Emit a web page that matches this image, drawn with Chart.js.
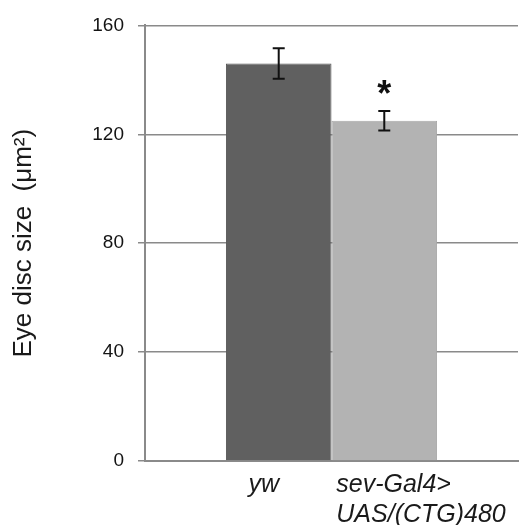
<!DOCTYPE html>
<html>
<head>
<meta charset="utf-8">
<script src="https://cdn.jsdelivr.net/npm/chart.js@4.4.1/dist/chart.umd.min.js"></script>
<style>
  html, body { margin: 0; padding: 0; background: #ffffff; }
  #wrap { width: 519px; height: 525px; position: relative; }
</style>
</head>
<body>
<div id="wrap"><canvas id="c" width="519" height="525"></canvas></div>
<script>
// ---- data ----
const categories = [['yw'], ['sev-Gal4>', 'UAS/(CTG)480']];
const values = [146, 125];
const errors = [5.6, 3.6];
const significance = ['', '*'];
const yTickValues = [0, 40, 80, 120, 160];
const barColors = ['#606060', '#b3b3b3'];
const barBorders = ['#585858', '#a8a8a8'];
const yTitle = 'Eye disc size  (\u03BCm\u00B2)';

const FONT = '"Liberation Sans", Arial, sans-serif';

const datasets = values.map((v, i) => ({
  label: categories[i].join(' '),
  data: [v],
  backgroundColor: barColors[i],
  borderColor: barBorders[i],
  borderWidth: 1,
  categoryPercentage: 0.566,
  barPercentage: 1.0
}));

const overlay = {
  id: 'overlay',
  afterDatasetsDraw(chart) {
    const ctx = chart.ctx;
    const y = chart.scales.y;
    ctx.save();
    values.forEach((v, i) => {
      const bar = chart.getDatasetMeta(i).data[0];
      const x = bar.x;
      const top = y.getPixelForValue(v + errors[i]);
      const bot = y.getPixelForValue(v - errors[i]);
      ctx.strokeStyle = '#111111';
      ctx.lineWidth = 2;
      ctx.beginPath();
      ctx.moveTo(x, top); ctx.lineTo(x, bot);
      ctx.moveTo(x - 6, top); ctx.lineTo(x + 6, top);
      ctx.moveTo(x - 6, bot); ctx.lineTo(x + 6, bot);
      ctx.stroke();
      if (significance[i]) {
        ctx.fillStyle = '#111111';
        ctx.font = 'bold 36px ' + FONT;
        ctx.textAlign = 'center';
        ctx.textBaseline = 'top';
        ctx.fillText(significance[i], x, top - 33);
      }
    });
    // category labels under each bar
    ctx.fillStyle = '#1a1a1a';
    ctx.font = 'italic 25px ' + FONT;
    ctx.textBaseline = 'alphabetic';
    const base = chart.chartArea.bottom + 31;
    categories.forEach((lines, i) => {
      const bar = chart.getDatasetMeta(i).data[0];
      let x, align;
      if (lines.length === 1) { x = bar.x - 15; align = 'center'; }
      else { x = bar.x - 48; align = 'left'; }
      ctx.textAlign = align;
      lines.forEach((t, k) => ctx.fillText(t, x, base + k * 30));
    });
    ctx.restore();
  }
};

new Chart(document.getElementById('c'), {
  type: 'bar',
  data: { labels: [''], datasets },
  options: {
    responsive: false,
    animation: false,
    layout: { padding: { top: 20, right: 1, left: 0, bottom: 0 } },
    plugins: { legend: { display: false }, tooltip: { enabled: false } },
    scales: {
      x: {
        grid: { display: false, drawTicks: false },
        border: { color: '#8a8a8a', width: 2 },
        ticks: { display: false },
        afterFit(s) { s.height = 64; }
      },
      y: {
        min: 0, max: 160,
        afterBuildTicks(s) { s.ticks = yTickValues.map(v => ({ value: v })); },
        grid: { color: '#8a8a8a', lineWidth: 1.5, tickLength: 7, drawTicks: true },
        border: { color: '#8a8a8a', width: 2 },
        ticks: { color: '#141414', font: { family: FONT, size: 19 }, padding: 14 },
        title: {
          display: true, text: yTitle, color: '#1a1a1a',
          font: { family: FONT, size: 26 }, padding: { top: 8, bottom: 0 }
        },
        afterFit(s) { s.width = 145; }
      }
    }
  },
  plugins: [overlay]
});
</script>
</body>
</html>
